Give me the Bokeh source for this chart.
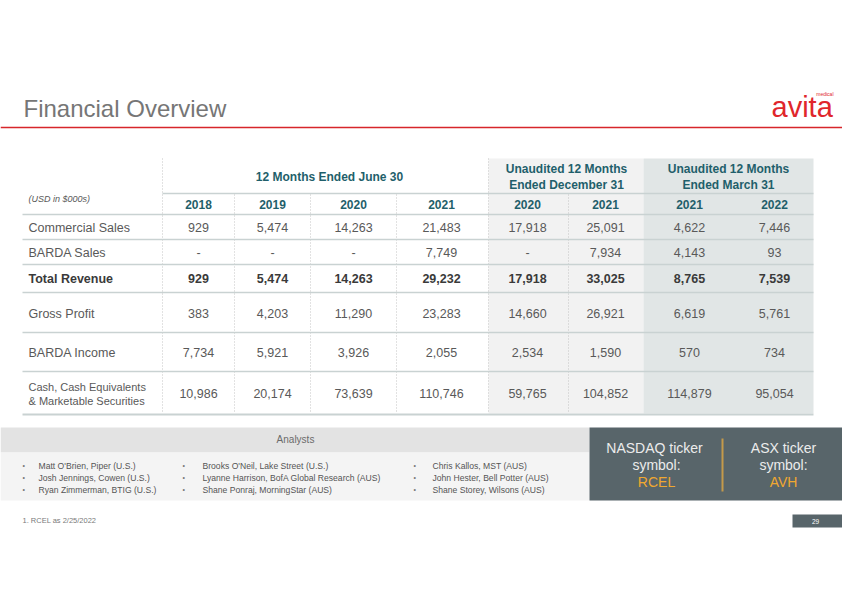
from bokeh.plotting import figure
from bokeh.models import Range1d
from bokeh.core.properties import value
from bokeh.embed import file_html
from bokeh.resources import INLINE

# ---------------- data ----------------
title = "Financial Overview"
group_labels = [["12 Months Ended June 30"],
                ["Unaudited 12 Months", "Ended December 31"],
                ["Unaudited 12 Months", "Ended March 31"]]
years = ["2018", "2019", "2020", "2021", "2020", "2021", "2021", "2022"]
unit_label = "(USD in $000s)"

row_labels = ["Commercial Sales", "BARDA Sales", "Total Revenue",
              "Gross Profit", "BARDA Income",
              "Cash, Cash Equivalents\n& Marketable  Securities"]
commercial_sales = [929, 5474, 14263, 21483, 17918, 25091, 4622, 7446]
barda_sales = [None, None, None, 7749, None, 7934, 4143, 93]
total_revenue = [929, 5474, 14263, 29232, 17918, 33025, 8765, 7539]
gross_profit = [383, 4203, 11290, 23283, 14660, 26921, 6619, 5761]
barda_income = [7734, 5921, 3926, 2055, 2534, 1590, 570, 734]
cash = [10986, 20174, 73639, 110746, 59765, 104852, 114879, 95054]
table_rows = [commercial_sales, barda_sales, total_revenue,
              gross_profit, barda_income, cash]

analysts_title = "Analysts"
analysts_col1 = ["Matt O'Brien, Piper (U.S.)", "Josh Jennings, Cowen (U.S.)",
                 "Ryan Zimmerman, BTIG (U.S.)"]
analysts_col2 = ["Brooks O'Neil, Lake Street (U.S.)",
                 "Lyanne Harrison, BofA Global Research (AUS)",
                 "Shane Ponraj, MorningStar (AUS)"]
analysts_col3 = ["Chris Kallos, MST (AUS)", "John Hester, Bell Potter (AUS)",
                 "Shane Storey, Wilsons (AUS)"]
tickers = [("NASDAQ  ticker", "symbol:", "RCEL"), ("ASX ticker", "symbol:", "AVH")]
footnote = "1. RCEL  as  2/25/2022"
page_number = "29"

# ---------------- layout / style ----------------
FONT = "Liberation Sans"
TEAL = "#1f5f6b"
GREY_TXT = "#595959"
DARK_TXT = "#3a3a3a"
RULE = "#c9d2d2"
RED = "#d7262b"
SLATE = "#58656a"
GOLD = "#f0a830"

col_x = [198, 272, 353, 441, 527, 605, 689, 774]
group_x = [329, 566, 728]
row_y = [227, 252, 278, 313, 352, 393]
rule_y = [214, 239, 264, 292, 332, 371, 414]

p = figure(width=842, height=595, x_range=Range1d(0, 842), y_range=Range1d(595, 0),
           output_backend="svg", toolbar_location=None,
           x_axis_location=None, y_axis_location=None,
           min_border=0, outline_line_color=None)
p.grid.visible = False
p.background_fill_color = "white"
p.border_fill_color = "white"


def txt(x, y, s, size, color, align="left", weight="normal", style="normal",
        baseline="middle", font=FONT):
    p.text(x=[x], y=[y], text=[s], text_font=value(font), text_font_size=size,
           text_color=color, text_align=align, text_font_style=(
               "bold" if weight == "bold" else style),
           text_baseline=baseline)


# header
txt(23, 108, title, "24px", "#767676")
p.segment(x0=[0], y0=[127], x1=[842], y1=[127], line_color=RED, line_width=1.5)
txt(771, 106, "avita", "29px", "#e0262b")
txt(833, 93, "medical", "5px", "#e0262b", align="right")

# shaded blocks
p.quad(left=[488, 643], right=[643, 813], top=[158, 158], bottom=[413, 413],
       fill_color=["#f2f2f2", "#e1e6e6"], line_color=None)

# dotted vertical dividers
full_div = [162, 488]
inner_div = [234, 310, 396, 568]
p.segment(x0=full_div, y0=[158] * 2, x1=full_div, y1=[413] * 2,
          line_color="#c4c4c4", line_dash="1 2", line_width=1)
p.segment(x0=inner_div, y0=[194] * 4, x1=inner_div, y1=[413] * 4,
          line_color="#c4c4c4", line_dash="1 2", line_width=1)

# horizontal rules
p.segment(x0=[162], y0=[193], x1=[813], y1=[193], line_color=RULE, line_width=1.5)
p.segment(x0=[22] * len(rule_y), y0=rule_y, x1=[813] * len(rule_y), y1=rule_y,
          line_color=RULE, line_width=[1.5] * (len(rule_y) - 1) + [2])

# group headers
for gx, lines in zip(group_x, group_labels):
    if len(lines) == 1:
        txt(gx, 176, lines[0], "12px", TEAL, align="center", weight="bold")
    else:
        txt(gx, 168, lines[0], "12px", TEAL, align="center", weight="bold")
        txt(gx, 184, lines[1], "12px", TEAL, align="center", weight="bold")

txt(28, 198, unit_label, "9px", GREY_TXT, style="italic")
for cx, yr in zip(col_x, years):
    txt(cx, 204, yr, "12px", TEAL, align="center", weight="bold")

# table body
for i, (label, vals) in enumerate(zip(row_labels, table_rows)):
    y = row_y[i]
    bold = label == "Total Revenue"
    color = DARK_TXT if bold else GREY_TXT
    w = "bold" if bold else "normal"
    if "\n" in label:
        l1, l2 = label.split("\n")
        txt(28, y - 7, l1, "11px", GREY_TXT)
        txt(28, y + 7, l2, "11px", GREY_TXT)
    else:
        txt(28, y, label, "12.5px", color, weight=w)
    for cx, v in zip(col_x, vals):
        s = "-" if v is None else f"{v:,}"
        txt(cx, y, s, "12.5px", color, align="center", weight=w)

# analysts panel
p.quad(left=[0], right=[589], top=[427], bottom=[452], fill_color="#e3e3e3", line_color=None)
p.quad(left=[0], right=[589], top=[452], bottom=[500], fill_color="#f4f4f4", line_color=None)
txt(295, 439, analysts_title, "10px", "#6b6b6b", align="center")
for bx, tx, names in [(22, 38, analysts_col1), (182, 202, analysts_col2), (413, 432, analysts_col3)]:
    for j, nm in enumerate(names):
        yy = 465 + 12 * j
        txt(bx, yy, "•", "7px", "#777777")
        txt(tx, yy, nm, "8.6px", "#555555")

# ticker box
p.quad(left=[589], right=[842], top=[427], bottom=[500], fill_color=SLATE, line_color=None)
p.segment(x0=[722], y0=[438], x1=[722], y1=[491], line_color="#c49a4a", line_width=2)
for cx, (a, b, c) in zip([656, 783], tickers):
    txt(cx, 447, a, "14px", "#ececec", align="center")
    txt(cx, 464, b, "14px", "#ececec", align="center")
    txt(cx, 481, c, "14px", GOLD, align="center")

# footer
txt(22, 520, footnote, "7.5px", "#7a7a7a")
p.quad(left=[792], right=[842], top=[514], bottom=[527], fill_color=SLATE, line_color=None)
txt(815, 520.5, page_number, "6.5px", "white", align="center")

open("out.html", "w").write(file_html(p, INLINE))
